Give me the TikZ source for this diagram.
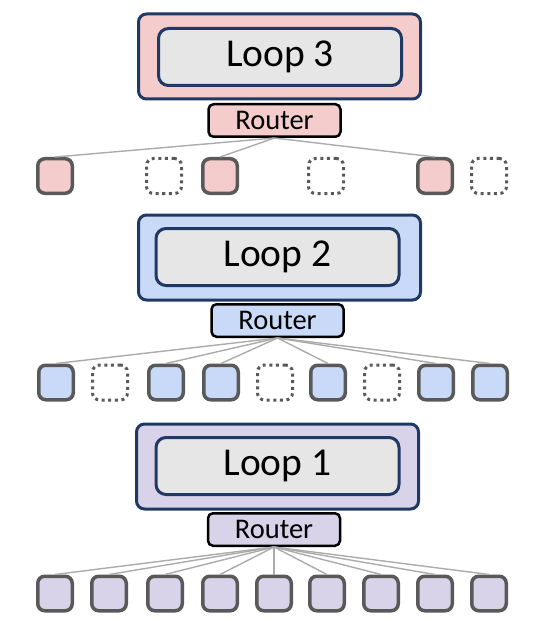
\documentclass[tikz,border=0pt]{standalone}
\usepackage{fontspec}
\setmainfont{Carlito}
\usepackage{tikz}

\definecolor{navy}{HTML}{1F3864}
\definecolor{pinkfill}{HTML}{F4CCCC}
\definecolor{bluefill}{HTML}{C9DAF8}
\definecolor{purplefill}{HTML}{D9D3E9}
\definecolor{coregray}{HTML}{E6E6E6}
\definecolor{unitgray}{HTML}{595959}
\definecolor{linkgray}{HTML}{ABABAB}

\tikzset{
  loopbox/.style={draw=navy, line width=3pt, rounded corners=8pt, minimum width=282pt, minimum height=85pt, inner sep=0pt},
  corebox/.style={draw=navy, fill=coregray, line width=3pt, rounded corners=10pt, minimum width=243pt, minimum height=57pt, inner sep=0pt, font=\fontsize{39.5}{40}\selectfont},
  routerbox/.style={draw=black, line width=2.5pt, rounded corners=5pt, minimum width=132pt, minimum height=32.5pt, inner sep=0pt, font=\fontsize{28.5}{29}\selectfont},
  unitbox/.style={draw=unitgray, line width=3.5pt, rounded corners=7pt, minimum size=34.5pt, inner sep=0pt},
  emptybox/.style={draw=unitgray, line width=3pt, dash pattern=on 3pt off 3.6pt, rounded corners=7pt, minimum size=35pt, inner sep=0pt},
  link/.style={draw=linkgray, line width=1.4pt}
}

\begin{document}
\begin{tikzpicture}[x=1pt,y=-1pt]
\useasboundingbox (0,0) rectangle (548,639);

% loop 3
\node[loopbox, fill=pinkfill] (outerThree) at (279.5,56.5) {};
\node[corebox] (coreThree) at (280,57) {Loop 3};
\node[routerbox, fill=pinkfill] (routerThree) at (274.5,120.5) {Router};

\node[unitbox, fill=pinkfill] (uThreeA) at (55,176) {};
\node[emptybox] (eThreeA) at (164,176) {};
\node[unitbox, fill=pinkfill] (uThreeB) at (220,176) {};
\node[emptybox] (eThreeB) at (326,176) {};
\node[unitbox, fill=pinkfill] (uThreeC) at (435,176) {};
\node[emptybox] (eThreeC) at (489,176) {};

\draw[link] (routerThree.south) -- (uThreeA.north);
\draw[link] (routerThree.south) -- (uThreeB.north);
\draw[link] (routerThree.south) -- (uThreeC.north);

% loop 2
\node[loopbox, fill=bluefill] (outerTwo) at (279.5,257.5) {};
\node[corebox] (coreTwo) at (277.5,257) {Loop 2};
\node[routerbox, fill=bluefill] (routerTwo) at (277.5,320.5) {Router};

\node[unitbox, fill=bluefill] (uTwoA) at (56,382.5) {};
\node[emptybox] (eTwoA) at (110,382.5) {};
\node[unitbox, fill=bluefill] (uTwoB) at (166,382.5) {};
\node[unitbox, fill=bluefill] (uTwoC) at (221,382.5) {};
\node[emptybox] (eTwoB) at (275,382.5) {};
\node[unitbox, fill=bluefill] (uTwoD) at (328,382.5) {};
\node[emptybox] (eTwoC) at (382,382.5) {};
\node[unitbox, fill=bluefill] (uTwoE) at (436,382.5) {};
\node[unitbox, fill=bluefill] (uTwoF) at (490,382.5) {};

\draw[link] (routerTwo.south) -- (uTwoA.north);
\draw[link] (routerTwo.south) -- (uTwoB.north);
\draw[link] (routerTwo.south) -- (uTwoC.north);
\draw[link] (routerTwo.south) -- (uTwoD.north);
\draw[link] (routerTwo.south) -- (uTwoE.north);
\draw[link] (routerTwo.south) -- (uTwoF.north);

% loop 1
\node[loopbox, fill=purplefill] (outerOne) at (277.5,466.5) {};
\node[corebox] (coreOne) at (277.5,466) {Loop 1};
\node[routerbox, fill=purplefill] (routerOne) at (274,529.5) {Router};

\node[unitbox, fill=purplefill] (uOneA) at (55,593.5) {};
\node[unitbox, fill=purplefill] (uOneB) at (109,593.5) {};
\node[unitbox, fill=purplefill] (uOneC) at (165,593.5) {};
\node[unitbox, fill=purplefill] (uOneD) at (220,593.5) {};
\node[unitbox, fill=purplefill] (uOneE) at (274,593.5) {};
\node[unitbox, fill=purplefill] (uOneF) at (327,593.5) {};
\node[unitbox, fill=purplefill] (uOneG) at (381,593.5) {};
\node[unitbox, fill=purplefill] (uOneH) at (435,593.5) {};
\node[unitbox, fill=purplefill] (uOneI) at (489,593.5) {};

\draw[link] (routerOne.south) -- (uOneA.north);
\draw[link] (routerOne.south) -- (uOneB.north);
\draw[link] (routerOne.south) -- (uOneC.north);
\draw[link] (routerOne.south) -- (uOneD.north);
\draw[link] (routerOne.south) -- (uOneE.north);
\draw[link] (routerOne.south) -- (uOneF.north);
\draw[link] (routerOne.south) -- (uOneG.north);
\draw[link] (routerOne.south) -- (uOneH.north);
\draw[link] (routerOne.south) -- (uOneI.north);
\end{tikzpicture}
\end{document}
